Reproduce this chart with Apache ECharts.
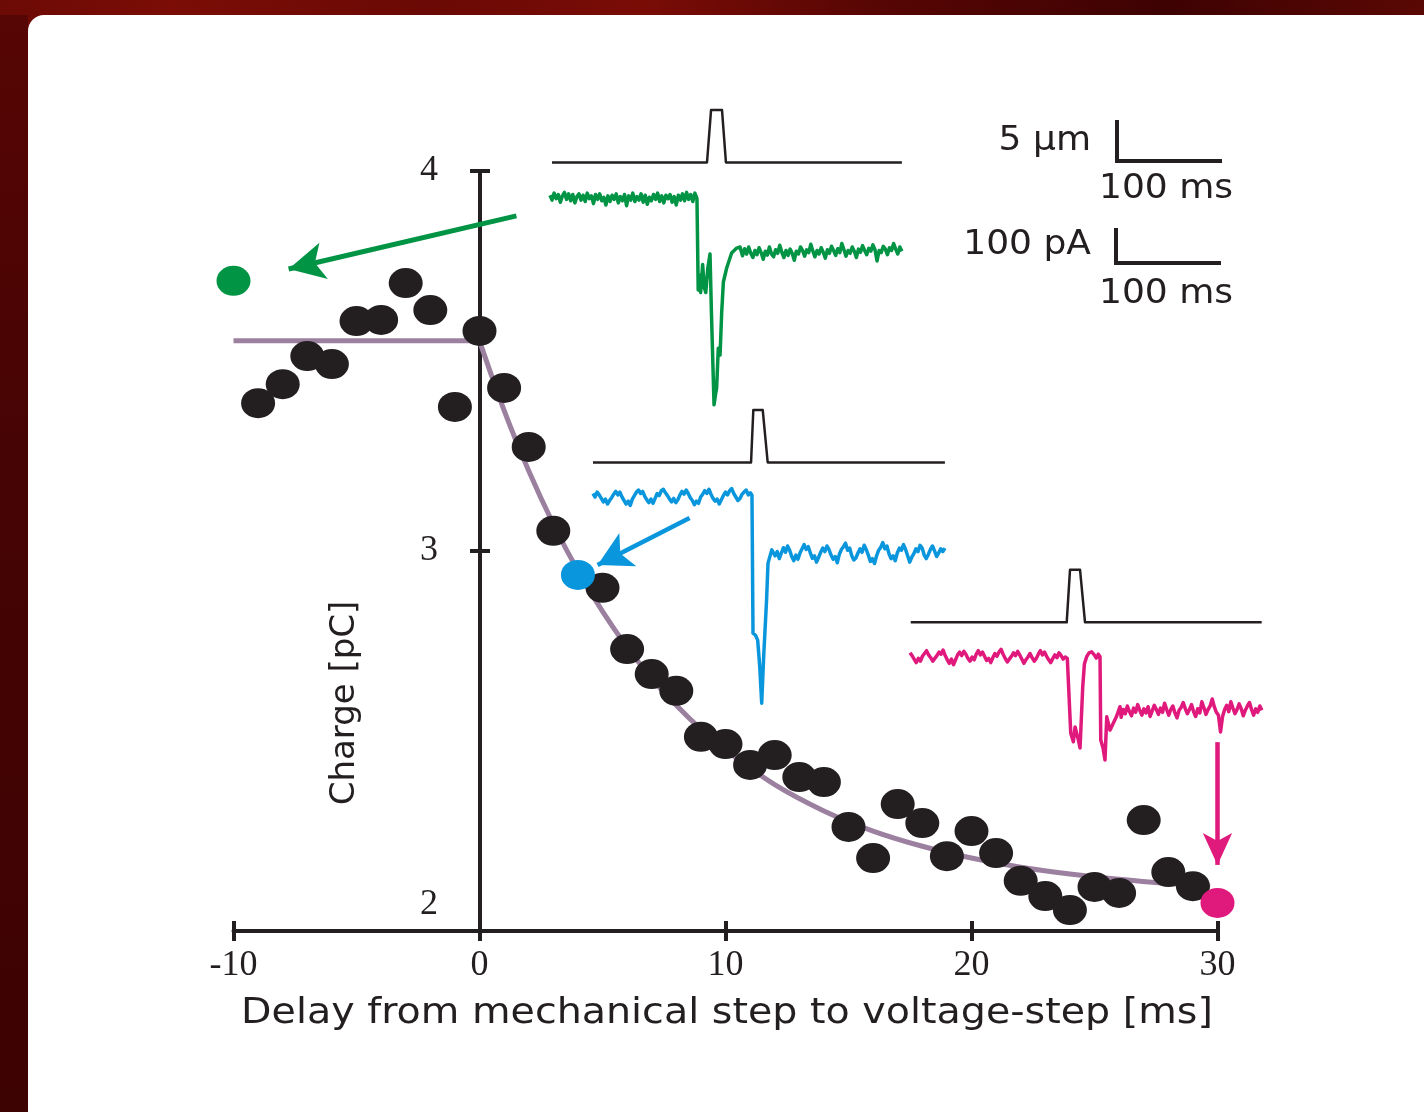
<!DOCTYPE html>
<html>
<head>
<meta charset="utf-8">
<title>Charge vs delay</title>
<script src="https://cdn.jsdelivr.net/npm/echarts@6/dist/echarts.min.js"></script>
<style>
  html, body { margin: 0; padding: 0; }
  body {
    width: 1424px; height: 1112px; overflow: hidden; position: relative;
    background: linear-gradient(90deg, #6c0a05 0%, #7b0d06 12%, #6a0905 30%, #7a0c06 45%, #560604 62%, #3e0202 82%, #5a0804 100%);
  }
  #leftStrip {
    position: absolute; left: 0; top: 15px; width: 28px; height: 1097px;
    background: linear-gradient(180deg, #560604 0%, #470404 40%, #3d0202 100%);
  }
  #panel {
    position: absolute; left: 28px; top: 15px; right: 0; bottom: 0;
    background: #ffffff; border-top-left-radius: 16px;
  }
  #chart { position: absolute; left: 0; top: 0; width: 1424px; height: 1112px; }
</style>
</head>
<body>
<div id="leftStrip"></div>
<div id="panel"></div>
<div id="chart"></div>
<script>
// ---- main plot data (delay in ms, charge in pC) ----
var delays = [-9, -8, -7, -6, -5, -4, -3, -2, -1, 0, 1, 2, 3, 5, 6, 7, 8, 9, 10, 11, 12, 13, 14,
  15, 16, 17, 18, 19, 20, 21, 22, 23, 24, 25, 26, 27, 28, 29];
var charges = [3.389, 3.439, 3.513, 3.492, 3.605, 3.608, 3.705, 3.634, 3.379, 3.579, 3.429, 3.274, 3.053,
  2.903, 2.742, 2.676, 2.632, 2.511, 2.492, 2.437, 2.463, 2.405, 2.392,
  2.274, 2.192, 2.334, 2.284, 2.197, 2.263, 2.205, 2.132, 2.092, 2.055, 2.116, 2.100, 2.292, 2.155, 2.118];

// highlighted points (the ones with example traces)
var greenPoint = [-10, 3.711];
var bluePoint = [4, 2.937];
var magentaPoint = [30, 2.074];

// fitted curve: flat part, then the decay
var fitFlatX = [-10, 0];
var fitFlatY = [3.553, 3.553];
var fitDecayX = [0, 1, 2, 3, 4, 5, 6, 7, 8, 9, 10, 12, 14, 16, 18, 20, 22, 24, 26, 28, 29.7];
var fitDecayY = [3.553, 3.370, 3.211, 3.071, 2.948, 2.841, 2.747, 2.665, 2.594, 2.531, 2.476,
  2.385, 2.316, 2.263, 2.223, 2.192, 2.168, 2.150, 2.136, 2.125, 2.118];

var xTicks = [-10, 0, 10, 20, 30];

// arrows from traces to points [start, tip] in plot units
var greenArrow = [[1.5, 3.882], [-7.76, 3.742]];
var blueArrow = [[8.54, 3.087], [4.8, 2.963]];
var magentaArrow = [[30, 2.497], [30, 2.174]];

// ---- example traces: time in ms, stimulus in um, current in pA ----
var greenStim = [[1.9, 0], [151.7, 0], [155.6, 6.1], [166.2, 6.1], [170, 0], [340, 0]];
var blueStim = [[0, 0], [152.7, 0], [154.9, 6.1], [164, 6.1], [168.8, 0], [340, 0]];
var magentaStim = [[0.7, 0], [151.4, 0], [154.6, 6.1], [164.3, 6.1], [169.1, 0], [339.8, 0]];

var sampleStep = 2; // ms between samples in the noisy stretches

// green (-10 ms): baseline before, response, baseline after
var greenPreStart = 0;
var greenPre = [
  8, -6, 14, -2, 10, -12, 6, 16, -4, 12, -8, 10, -14, 4, 12, -6, 8, -10, 14, -2,
  6, -16, 10, -4, 12, -8, 2, -20, 6, -10, 8, -4, 12, -14, 4, -8, 10, -22, 6, -6,
  14, -10, 4, -6, 12, -12, 8, -18, 2, -8, 10, -4, 14, -10, 6, -14, 8, -2, 10, -12,
  4, -20, 8, -6, 12, -8, 16, -4, 10, -10, 14, -2];
var greenResponse = [
  [142.7, -5], [143.2, -263], [144.5, -220], [145.5, -270], [147.5, -190], [149, -255], [150.5, -270],
  [152.5, -200], [154.6, -160], [156, -330], [158.5, -591], [160, -560], [161, -543], [162.6, -429],
  [164.3, -449], [165.9, -326], [167.5, -240], [170.7, -200], [175.5, -157], [180.4, -143], [183.6, -140]];
var greenPostStart = 186;
var greenPost = [
  -165, -145, -160, -140, -158, -170, -150, -162, -142, -156, -175, -152, -163, -140, -160, -168, -148, -158, -135, -155,
  -170, -150, -164, -146, -158, -178, -152, -160, -140, -150, -166, -148, -156, -132, -152, -168, -150, -160, -142, -155,
  -172, -148, -158, -138, -150, -164, -145, -156, -130, -148, -166, -150, -158, -140, -152, -170, -146, -155, -136, -150,
  -162, -144, -152, -134, -148, -180, -150, -156, -138, -146, -162, -142, -150, -130, -146, -160, -140, -152];

// blue (4 ms)
var bluePreStart = 0;
var bluePre = [
  10, 0, 14, 6, -4, -14, -6, -20, -10, -2,
  8, 16, 6, 14, 0, -10, -20, -12, -24, -6,
  4, 14, 20, 10, 16, 2, -8, -16, -6, -18,
  -4, 10, 4, 18, 22, 12, 4, -6, -14, -4,
  -16, -8, 6, 16, 8, 20, 10, -2, -10, -22,
  -12, -18, 0, 8, 18, 10, 22, 8, -4, -12,
  -6, -20, -8, 4, 14, 6, 18, 24, 10, 0,
  -10, -4, 8, 14, 20, 6, 12];
var blueResponse = [
  [153.6, 5], [154.6, -389], [157, -395], [159.1, -409], [161, -480], [163, -589], [165, -450],
  [167.7, -294], [169.1, -189], [172.7, -151]];
var bluePostStart = 174;
var bluePost = [
  -150, -168, -156, -176, -160, -145, -158, -140, -152, -170,
  -182, -166, -178, -160, -148, -136, -150, -142, -160, -175,
  -168, -186, -172, -158, -146, -156, -140, -150, -166, -178,
  -170, -188, -164, -150, -142, -132, -152, -146, -168, -180,
  -174, -160, -148, -158, -138, -150, -166, -184, -176, -190,
  -168, -152, -144, -130, -148, -140, -162, -176, -168, -182,
  -160, -146, -152, -136, -150, -168, -186, -172, -162, -148,
  -156, -138, -146, -166, -176, -164, -150, -140, -154, -170,
  -160, -148, -156, -146];

// magenta (30 ms)
var magentaPreStart = 0;
var magentaPre = [
  12, 4, -6, -16, -4, -12, 2, 10, 18, 6,
  -2, -12, -4, 4, 14, 8, 20, 4, -8, -18,
  -6, -22, -8, 6, 14, 4, 16, 8, -4, -12,
  0, -8, 8, 18, 6, 14, 2, -10, -4, -16,
  -2, 10, 2, 14, 22, 8, -4, -14, -6, 2,
  12, 4, 16, 6, -6, -18, -8, 0, 10, -2,
  -12, -4, 8, 18, 6, 14, 2, -8, -16, -4,
  6, -2, 12, 4, -6, 0, -4];
var magentaResponse = [
  [155.3, -217], [157.8, -242], [159.5, -200], [161.1, -199], [162.5, -235], [164.3, -260], [166.9, -85],
  [168.5, -20], [170.7, 1], [173, 12], [175.5, 15], [178, 6], [180, -3], [182, 8], [183.6, 1],
  [184.3, -237], [186.5, -260], [188.4, -294], [190.1, -171], [193.2, -209], [196.4, -189], [199.5, -170],
  [202.9, -142]];
var magentaPostStart = 204;
var magentaPost = [
  -172, -150, -162, -140, -156, -168, -146, -158, -136, -152,
  -166, -148, -160, -142, -170, -154, -138, -150, -164, -146,
  -158, -132, -150, -166, -150, -140, -160, -174, -152, -144,
  -130, -148, -162, -150, -136, -156, -170, -148, -160, -128,
  -145, -164, -150, -140, -120, -142, -158, -166, -214, -170,
  -150, -138, -156, -128, -146, -162, -150, -134, -148, -168,
  -152, -140, -130, -150, -166, -148, -158, -140, -152];

var ink = '#231f20';
var green = '#009444';
var blue = '#0a96dc';
var magenta = '#e0197d';
var fitColor = '#9c80a0';

// join sampled stretches and the hand-read response into [t, pA] pairs
function buildTrace(preStart, pre, response, postStart, post) {
  var out = [];
  pre.forEach(function (v, i) { out.push([preStart + i * sampleStep, v]); });
  response.forEach(function (p) { out.push(p); });
  post.forEach(function (v, i) { out.push([postStart + i * sampleStep, v]); });
  return out;
}

var myChart = echarts.init(document.getElementById('chart'), null, { renderer: 'canvas' });

// inset placement: one stimulus grid + one current grid per example
var insets = [
  { left: 550, stimTop: 102.3, curTop: 177 },
  { left: 593, stimTop: 402.3, curTop: 476 },
  { left: 910, stimTop: 562.1, curTop: 636 }
];
var insetWidth = 351.9;  // 340 ms
var stimHeight = 68.8;   // -1..7 um
var curHeight = 231;     // -600..60 pA

var mainGrid = { left: 233.5, top: 171, width: 984, height: 760 };
var yAxisShift = -(480 - 233.5); // y axis sits at delay = 0

var grids = [mainGrid];
var tickStyle = { color: ink, width: 4 };
var xAxes = [
  {
    type: 'value', gridIndex: 0, min: -10, max: 30, interval: 10,
    axisLine: { onZero: false, lineStyle: { color: ink, width: 4 } },
    axisTick: { inside: false, length: 10, lineStyle: tickStyle },
    splitLine: { show: false },
    axisLabel: { color: ink, fontFamily: 'Liberation Serif', fontSize: 36, margin: 17,
      formatter: function (v) { return xTicks.indexOf(v) >= 0 ? String(v) : ''; } }
  },
  {
    type: 'value', gridIndex: 0, min: -10, max: 30, interval: 10, position: 'bottom',
    axisLine: { show: false, onZero: false },
    axisTick: { inside: true, length: 10, lineStyle: tickStyle },
    axisLabel: { show: false }, splitLine: { show: false }
  }
];
var yAxes = [
  {
    type: 'value', gridIndex: 0, min: 2, max: 4, interval: 1, position: 'left', offset: yAxisShift,
    axisLine: { onZero: false, lineStyle: { color: ink, width: 4 } },
    axisTick: { inside: false, length: 10, lineStyle: tickStyle },
    splitLine: { show: false },
    axisLabel: {
      color: ink, fontFamily: 'Liberation Serif', fontSize: 36, margin: 42,
      formatter: function (v) { return v === 2 ? '{low|2}' : String(v); },
      rich: { low: { fontFamily: 'Liberation Serif', fontSize: 36, color: ink, padding: [0, 0, 52, 0] } }
    }
  },
  {
    type: 'value', gridIndex: 0, min: 2, max: 4, interval: 1, position: 'left', offset: yAxisShift,
    axisLine: { show: false, onZero: false },
    axisTick: { inside: true, length: 10, lineStyle: tickStyle },
    axisLabel: { show: false }, splitLine: { show: false }
  }
];

insets.forEach(function (ins) {
  grids.push({ left: ins.left, top: ins.stimTop, width: insetWidth, height: stimHeight });
  grids.push({ left: ins.left, top: ins.curTop, width: insetWidth, height: curHeight });
});
for (var g = 1; g < grids.length; g++) {
  var isStim = (g % 2 === 1);
  xAxes.push({ type: 'value', gridIndex: g, min: 0, max: 340, show: false });
  yAxes.push({ type: 'value', gridIndex: g, min: isStim ? -1 : -600, max: isStim ? 7 : 60, show: false });
}

// grid g (1..6) owns xAxis g+1 and yAxis g+1 (main grid has two of each)
function traceSeries(g, data, color, width) {
  return {
    type: 'line', xAxisIndex: g + 1, yAxisIndex: g + 1, data: data,
    showSymbol: false, clip: false, silent: true,
    lineStyle: { color: color, width: width, join: 'round' }
  };
}

function arrowLine(pts, color, width, size) {
  return [{ coord: pts[0], lineStyle: { color: color, width: width, type: 'solid' } },
          { coord: pts[1], symbol: 'arrow', symbolSize: size, itemStyle: { color: color } }];
}

function label(x, y, text, align) {
  return { type: 'text', x: x, y: y, scaleX: 1.06,
    style: { text: text, fill: ink, font: '34px "DejaVu Sans"', textAlign: align, textVerticalAlign: 'middle' } };
}

var option = {
  animation: false,
  backgroundColor: 'transparent',
  grid: grids,
  xAxis: xAxes,
  yAxis: yAxes,
  graphic: [
    // scale bars
    { type: 'polyline', shape: { points: [[1117, 120], [1117, 161], [1222, 161]] },
      style: { stroke: ink, lineWidth: 4, fill: null } },
    { type: 'polyline', shape: { points: [[1116, 228], [1116, 263], [1221, 263]] },
      style: { stroke: ink, lineWidth: 4, fill: null } },
    label(1091, 141, '5 \u00b5m', 'right'),
    label(1099, 189, '100 ms', 'left'),
    label(1091, 245, '100 pA', 'right'),
    label(1099, 294, '100 ms', 'left'),
    // axis titles
    { type: 'text', x: 345, y: 703, rotation: Math.PI / 2,
      style: { text: 'Charge [pC]', fill: ink, font: '34px "DejaVu Sans"', textAlign: 'center', textVerticalAlign: 'middle' } },
    { type: 'text', x: 727, y: 1014, scaleX: 1.1,
      style: { text: 'Delay from mechanical step to voltage-step [ms]', fill: ink, font: '36px "DejaVu Sans"', textAlign: 'center', textVerticalAlign: 'middle' } }
  ],
  series: [
    {
      type: 'line', xAxisIndex: 0, yAxisIndex: 0,
      data: fitFlatX.map(function (x, i) { return [x, fitFlatY[i]]; }),
      showSymbol: false, clip: false, silent: true, z: 2,
      lineStyle: { color: fitColor, width: 5 }
    },
    {
      type: 'line', xAxisIndex: 0, yAxisIndex: 0,
      data: fitDecayX.map(function (x, i) { return [x, fitDecayY[i]]; }),
      showSymbol: false, smooth: 0.3, clip: false, silent: true, z: 2,
      lineStyle: { color: fitColor, width: 5 }
    },
    {
      type: 'scatter', xAxisIndex: 0, yAxisIndex: 0,
      data: delays.map(function (x, i) { return [x, charges[i]]; }),
      symbol: 'circle', symbolSize: [34, 30], clip: false, silent: true, z: 3,
      itemStyle: { color: ink, opacity: 1 }
    },
    {
      type: 'scatter', xAxisIndex: 0, yAxisIndex: 0,
      data: [
        { value: greenPoint, itemStyle: { color: green } },
        { value: bluePoint, itemStyle: { color: blue } },
        { value: magentaPoint, itemStyle: { color: magenta } }
      ],
      symbol: 'circle', symbolSize: [34, 30], clip: false, silent: true, z: 4,
      itemStyle: { opacity: 1 }
    },
    {
      // arrows pointing from the traces to their points
      type: 'scatter', xAxisIndex: 0, yAxisIndex: 0, data: [], clip: false, z: 4,
      markLine: {
        silent: true, animation: false,
        symbol: ['none', 'arrow'],
        label: { show: false },
        emphasis: { disabled: true },
        lineStyle: { type: 'solid', opacity: 1 },
        data: [
          arrowLine(greenArrow, green, 5, [28, 36]),
          arrowLine(blueArrow, blue, 4.5, [28, 34]),
          arrowLine(magentaArrow, magenta, 4.5, [22, 32])
        ]
      }
    },
    traceSeries(1, greenStim, ink, 2.5),
    traceSeries(2, buildTrace(greenPreStart, greenPre, greenResponse, greenPostStart, greenPost), green, 3.5),
    traceSeries(3, blueStim, ink, 2.5),
    traceSeries(4, buildTrace(bluePreStart, bluePre, blueResponse, bluePostStart, bluePost), blue, 3.5),
    traceSeries(5, magentaStim, ink, 2.5),
    traceSeries(6, buildTrace(magentaPreStart, magentaPre, magentaResponse, magentaPostStart, magentaPost), magenta, 3.5)
  ]
};

myChart.setOption(option);
window.addEventListener('resize', function () { myChart.resize(); });
</script>
</body>
</html>
